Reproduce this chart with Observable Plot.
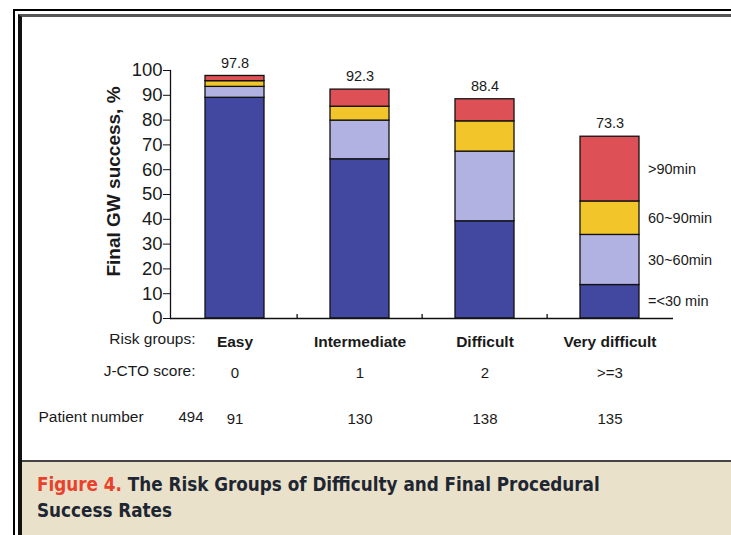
<!DOCTYPE html>
<html>
<head>
<meta charset="utf-8">
<script src="https://cdn.jsdelivr.net/npm/d3@7"></script>
<script src="https://cdn.jsdelivr.net/npm/@observablehq/plot@0.6"></script>
<style>
  html, body { margin: 0; padding: 0; background: #fff; }
  #page { position: relative; width: 731px; height: 535px; overflow: hidden; background: #fff; }
  #outer { position: absolute; left: 13px; top: 9px; right: -20px; bottom: -20px; border-left: 2px solid #000; border-top: 2px solid #000; }
  #inner { position: absolute; left: 18px; top: 14px; right: -20px; bottom: -20px; border-left: 4px solid #111; border-top: 3px solid #555; }
  #chart { position: absolute; left: 0; top: 0; }
  #caption { position: absolute; left: 22px; top: 460px; right: 0; bottom: 0; background: #E9E1C9; border-top: 2px solid #444; }
  #caption p { margin: 0; position: absolute; left: 15px; top: 10px; font-family: "Liberation Sans Narrow", "DejaVu Sans Condensed", "Liberation Sans", sans-serif; font-weight: bold; font-size: 18.7px; line-height: 26px; color: #1f2633; }
  #caption .fig { color: #E8412C; }
</style>
</head>
<body>
<div id="page">
  <div id="outer"></div>
  <div id="inner"></div>
  <div id="chart"></div>
  <div id="caption"><p><span class="fig">Figure 4.</span> The Risk Groups of Difficulty and Final Procedural<br>Success Rates</p></div>
</div>
<script>
// ---- data ----
const groups = ["Easy", "Intermediate", "Difficult", "Very difficult"];
const jctoScores = ["0", "1", "2", ">=3"];
const patientNumbers = [91, 130, 138, 135];
const patientTotal = 494;
const totals = [97.8, 92.3, 88.4, 73.3];
const timeCats = ["=<30 min", "30~60min", "60~90min", ">90min"];
const under30 = [89.0, 64.2, 39.2, 13.5];
const from30to60 = [4.4, 15.6, 28.1, 20.2];
const from60to90 = [2.3, 5.6, 12.2, 13.5];
const over90 = [2.1, 6.9, 8.9, 26.1];
const yTicks = [0, 10, 20, 30, 40, 50, 60, 70, 80, 90, 100];
const colors = ["#4247A0", "#B2B2E2", "#F2C62A", "#DD5055"];

const series = [under30, from30to60, from60to90, over90];
const rows = [];
groups.forEach((g, i) => series.forEach((s, j) => rows.push({group: g, cat: timeCats[j], value: s[i]})));
const totalRows = groups.map((g, i) => ({group: g, total: totals[i]}));

const W = 731, H = 460, ML = 170, MR = 58, MT = 70, MB = 142;
const step = (W - ML - MR) / groups.length;

const chart = Plot.plot({
  width: W, height: H,
  marginLeft: ML, marginRight: MR, marginTop: MT, marginBottom: MB,
  style: {fontFamily: "'Liberation Sans', Arial, sans-serif", color: "#1a1a1a", background: "transparent", overflow: "visible"},
  x: {domain: groups, paddingInner: 0.53, paddingOuter: 0.265, axis: null},
  y: {domain: [0, 100], axis: null},
  color: {domain: timeCats, range: colors},
  marks: [
    Plot.barY(rows, {x: "group", y: "value", fill: "cat", stroke: "#111", strokeWidth: 1.3}),
    Plot.text(totalRows, {x: "group", y: "total", text: d => d.total.toFixed(1), dy: -13, fontSize: 14.5}),
    Plot.text(rows.filter(d => d.group === groups[groups.length - 1]),
      Plot.stackY({x: "group", y: "value", z: "cat", text: "cat", textAnchor: "start", dx: 38, fontSize: 14.5, letterSpacing: -0.3})),
    Plot.axisY({ticks: yTicks, tickSize: 7, tickPadding: 1, fontSize: 18.5, label: null, tickFormat: d => String(d), stroke: "#111"}),
    Plot.frame({anchor: "left", stroke: "#111", strokeWidth: 1.3}),
    Plot.ruleY([0], {stroke: "#111", strokeWidth: 1.3}),
    Plot.ruleX(groups.slice(1), {y1: 0, y2: 1.6, dx: -step / 2, stroke: "#111", strokeWidth: 1.3}),
    Plot.text(["Final GW success, %"], {frameAnchor: "left", textAnchor: "middle", rotate: -90, dx: -57, dy: -13, fontWeight: "bold", fontSize: 19}),
    Plot.axisX({tickSize: 0, tickPadding: 17, fontWeight: "bold", fontSize: 15.5, letterSpacing: -0.4, label: null}),
    Plot.axisX({tickSize: 0, tickPadding: 49, fontSize: 15, label: null, tickFormat: d => jctoScores[groups.indexOf(d)]}),
    Plot.axisX({tickSize: 0, tickPadding: 95, fontSize: 15, label: null, tickFormat: d => String(patientNumbers[groups.indexOf(d)])}),
    Plot.text(["Risk groups:"], {frameAnchor: "bottom-left", dx: 25, dy: 25, textAnchor: "end", fontSize: 15.5}),
    Plot.text(["J-CTO score:"], {frameAnchor: "bottom-left", dx: 25, dy: 57, textAnchor: "end", fontSize: 15.5}),
    Plot.text(["Patient number"], {frameAnchor: "bottom-left", dx: -132, dy: 103, textAnchor: "start", fontSize: 15.5}),
    Plot.text([String(patientTotal)], {frameAnchor: "bottom-left", dx: 8, dy: 103, fontSize: 15})
  ]
});
document.getElementById("chart").appendChild(chart);
</script>
</body>
</html>
